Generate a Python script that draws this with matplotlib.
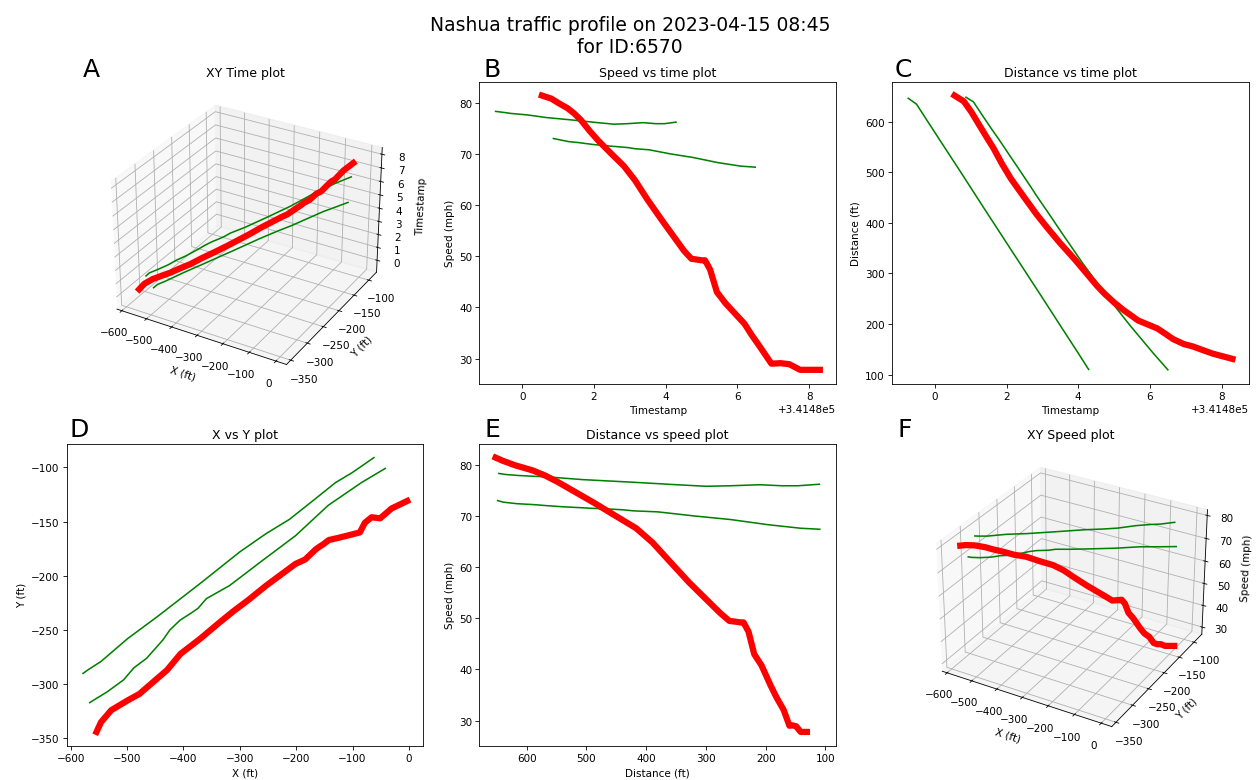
import numpy as np
import matplotlib.pyplot as plt
from matplotlib.ticker import MultipleLocator

# timestamps are stored relative to this base (s)
T0 = 341480.0

# subject vehicle ID 6570
ego_t = [0.55, 0.81, 1.02, 1.27, 1.45, 1.64, 1.88, 2.12, 2.49, 2.84, 3.15, 3.49, 3.90, 4.52,
         4.72, 5.01, 5.10, 5.24, 5.43, 5.67, 6.20, 6.40, 6.65, 6.95, 7.20, 7.45, 7.75, 8.30]
ego_x = [-554, -546, -528, -499, -478, -458, -429, -405, -370, -338, -312, -284, -253, -201,
         -184, -166, -161, -152, -142, -125, -102, -87, -78, -66, -51, -42, -31, -3]
ego_y = [-344, -335, -324, -315, -309, -300, -287, -272, -258, -244, -233, -222, -209, -189,
         -185, -176, -174, -171, -167, -165, -162, -160, -151, -146, -147, -143, -138, -131]
ego_speed = [81.4, 80.8, 79.9, 78.9, 77.9, 76.6, 74.5, 72.6, 70.0, 67.6, 64.8, 61.1, 57.0, 51.0,
             49.5, 49.2, 49.2, 47.4, 43.0, 40.8, 36.8, 34.6, 32.1, 29.0, 29.1, 28.9, 27.8, 27.8]

# neighbouring vehicles
nb1_t = [-0.74, -0.51, -0.31, 0.16, 0.67, 1.42, 2.11, 2.56, 2.94, 3.38, 3.72, 3.97, 4.29]
nb1_x = [-578, -567, -546, -499, -447, -370, -300, -253, -212, -166, -130, -101, -62]
nb1_y = [-290, -286, -279, -258, -238, -207, -178, -161, -148, -129, -114, -105, -91]
nb1_speed = [78.3, 78.1, 77.9, 77.6, 77.1, 76.6, 76.1, 75.8, 75.9, 76.1, 75.9, 75.9, 76.2]

nb2_t = [0.87, 1.08, 1.29, 1.58, 1.79, 2.02, 2.34, 2.48, 2.67, 2.84, 2.98, 3.15, 3.54, 4.13,
         4.76, 5.45, 6.10, 6.50]
nb2_x = [-566, -557, -535, -506, -488, -465, -436, -424, -406, -388, -374, -359, -318, -260,
         -201, -143, -84, -42]
nb2_y = [-317, -314, -307, -296, -285, -276, -259, -250, -241, -235, -230, -221, -209, -186,
         -163, -135, -114, -101]
nb2_speed = [73.0, 72.7, 72.4, 72.2, 72.0, 71.8, 71.6, 71.5, 71.4, 71.3, 71.2, 71.0, 70.8, 70.0,
             69.3, 68.3, 67.6, 67.4]


def track(t, x, y, speed):
    x = np.array(x, dtype=float)
    y = np.array(y, dtype=float)
    return {"t": T0 + np.array(t), "x": x, "y": y,
            "speed": np.array(speed), "dist": np.hypot(x, y)}


ego = track(ego_t, ego_x, ego_y, ego_speed)
neighbours = [track(nb1_t, nb1_x, nb1_y, nb1_speed),
              track(nb2_t, nb2_x, nb2_y, nb2_speed)]

fig = plt.figure(figsize=(16.8, 10.413), dpi=75)
fig.suptitle("Nashua traffic profile on 2023-04-15 08:45\nfor ID:6570", fontsize=18)
fig.subplots_adjust(left=0.053, right=0.991, top=0.894, bottom=0.044, wspace=0.157, hspace=0.2)

axA = fig.add_subplot(2, 3, 1, projection="3d")
axB = fig.add_subplot(2, 3, 2)
axC = fig.add_subplot(2, 3, 3)
axD = fig.add_subplot(2, 3, 4)
axE = fig.add_subplot(2, 3, 5)
axF = fig.add_subplot(2, 3, 6, projection="3d")

for v, col, lw in [(n, "green", 1.5) for n in neighbours] + [(ego, "red", 6)]:
    axA.plot(v["x"], v["y"], v["t"], color=col, lw=lw)
    axB.plot(v["t"], v["speed"], color=col, lw=lw)
    axC.plot(v["t"], v["dist"], color=col, lw=lw)
    axD.plot(v["x"], v["y"], color=col, lw=lw)
    axE.plot(v["dist"], v["speed"], color=col, lw=lw)
    axF.plot(v["x"], v["y"], v["speed"], color=col, lw=lw)

axA.set_title("XY Time plot")
axA.set_xlabel("X (ft)")
axA.set_ylabel("Y (ft)")
axA.set_zlabel("Timestamp")
axA.zaxis.set_major_locator(MultipleLocator(1))
axA.zaxis.get_offset_text().set_visible(False)

axB.set_title("Speed vs time plot")
axB.set_xlabel("Timestamp")
axB.set_ylabel("Speed (mph)")

axC.set_title("Distance vs time plot")
axC.set_xlabel("Timestamp")
axC.set_ylabel("Distance (ft)")

axD.set_title("X vs Y plot")
axD.set_xlabel("X (ft)")
axD.set_ylabel("Y (ft)")

axE.set_title("Distance vs speed plot")
axE.set_xlabel("Distance (ft)")
axE.set_ylabel("Speed (mph)")
axE.invert_xaxis()

axF.set_title("XY Speed plot")
axF.set_xlabel("X (ft)")
axF.set_ylabel("Y (ft)")
axF.set_zlabel("Speed (mph)")

# panel letters
for letter, px, base in [("A", 83, 77), ("B", 483, 77), ("C", 895, 77),
                         ("D", 70, 437), ("E", 484, 437), ("F", 898, 437)]:
    fig.text(px / 1260, 1 - base / 781, letter, fontsize=24, va="baseline")

fig.savefig("out.png", dpi=75)
